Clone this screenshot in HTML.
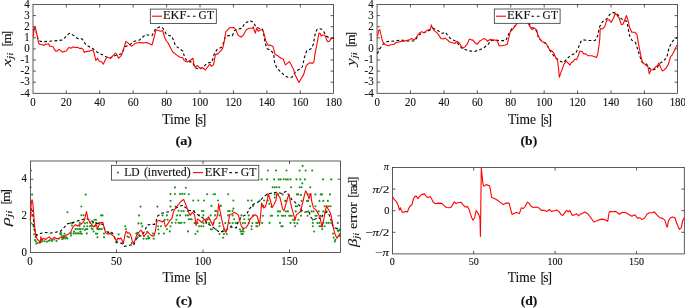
<!DOCTYPE html><html><head><meta charset="utf-8"><style>
html,body{margin:0;padding:0;background:#fff;width:685px;height:308px;overflow:hidden}
svg{display:block;will-change:transform}
</style></head><body>
<svg width="685" height="308" viewBox="0 0 685 308" font-family="Liberation Serif" fill="#111" stroke="#111" stroke-width="0.12">
<rect x="33.0" y="4.5" width="300.50" height="88.80" fill="none" stroke="#262626" stroke-width="0.75"/>
<path d="M66.28 93.3V90.30M66.28 4.5V7.50M99.72 93.3V90.30M99.72 4.5V7.50M133.15 93.3V90.30M133.15 4.5V7.50M166.59 93.3V90.30M166.59 4.5V7.50M200.02 93.3V90.30M200.02 4.5V7.50M233.45 93.3V90.30M233.45 4.5V7.50M266.89 93.3V90.30M266.89 4.5V7.50M300.32 93.3V90.30M300.32 4.5V7.50M33.0 82.20H36.00M333.5 82.20H330.50M33.0 71.10H36.00M333.5 71.10H330.50M33.0 60.00H36.00M333.5 60.00H330.50M33.0 48.90H36.00M333.5 48.90H330.50M33.0 37.80H36.00M333.5 37.80H330.50M33.0 26.70H36.00M333.5 26.70H330.50M33.0 15.60H36.00M333.5 15.60H330.50" stroke="#262626" stroke-width="0.75" fill="none"/>
<text x="32.85" y="106.1" font-size="11.8" text-anchor="middle" textLength="5.45" lengthAdjust="spacingAndGlyphs">0</text>
<text x="66.28" y="106.1" font-size="11.8" text-anchor="middle" textLength="10.90" lengthAdjust="spacingAndGlyphs">20</text>
<text x="99.72" y="106.1" font-size="11.8" text-anchor="middle" textLength="10.90" lengthAdjust="spacingAndGlyphs">40</text>
<text x="133.15" y="106.1" font-size="11.8" text-anchor="middle" textLength="10.90" lengthAdjust="spacingAndGlyphs">60</text>
<text x="166.59" y="106.1" font-size="11.8" text-anchor="middle" textLength="10.90" lengthAdjust="spacingAndGlyphs">80</text>
<text x="200.02" y="106.1" font-size="11.8" text-anchor="middle" textLength="16.35" lengthAdjust="spacingAndGlyphs">100</text>
<text x="233.45" y="106.1" font-size="11.8" text-anchor="middle" textLength="16.35" lengthAdjust="spacingAndGlyphs">120</text>
<text x="266.89" y="106.1" font-size="11.8" text-anchor="middle" textLength="16.35" lengthAdjust="spacingAndGlyphs">140</text>
<text x="300.32" y="106.1" font-size="11.8" text-anchor="middle" textLength="16.35" lengthAdjust="spacingAndGlyphs">160</text>
<text x="333.76" y="106.1" font-size="11.8" text-anchor="middle" textLength="16.35" lengthAdjust="spacingAndGlyphs">180</text>
<text x="29.7" y="96.50" font-size="11.8" text-anchor="end" textLength="9.25" lengthAdjust="spacingAndGlyphs">-4</text>
<text x="29.7" y="85.40" font-size="11.8" text-anchor="end" textLength="9.25" lengthAdjust="spacingAndGlyphs">-3</text>
<text x="29.7" y="74.30" font-size="11.8" text-anchor="end" textLength="9.25" lengthAdjust="spacingAndGlyphs">-2</text>
<text x="29.7" y="63.20" font-size="11.8" text-anchor="end" textLength="9.25" lengthAdjust="spacingAndGlyphs">-1</text>
<text x="29.7" y="52.10" font-size="11.8" text-anchor="end" textLength="5.45" lengthAdjust="spacingAndGlyphs">0</text>
<text x="29.7" y="41.00" font-size="11.8" text-anchor="end" textLength="5.45" lengthAdjust="spacingAndGlyphs">1</text>
<text x="29.7" y="29.90" font-size="11.8" text-anchor="end" textLength="5.45" lengthAdjust="spacingAndGlyphs">2</text>
<text x="29.7" y="18.80" font-size="11.8" text-anchor="end" textLength="5.45" lengthAdjust="spacingAndGlyphs">3</text>
<text x="29.7" y="7.70" font-size="11.8" text-anchor="end" textLength="5.45" lengthAdjust="spacingAndGlyphs">4</text>
<polyline points="33.4,30.7 34.4,28.8 35.8,30.7 37.3,36.6 38.8,40.4 40.7,41.4 44.6,41.6 49.5,41.2 54.3,40.9 59.2,40.4 62.1,40.0 64.6,38.0 67.0,35.1 69.5,33.4 73.9,35.6 77.5,38.5 81.9,38.9 83.4,40.7 85.6,44.4 88.5,46.3 92.9,48.8 98.7,53.2 103.1,55.0 106.0,56.8 109.7,58.3 115.5,55.4 121.4,53.9 125.4,46.5 129.4,45.1 133.8,41.4 139.6,40.0 145.5,34.6 152.0,35.6 155.7,28.7 160.1,26.8 163.0,28.3 166.7,34.9 171.8,36.3 174.0,41.4 175.4,45.8 179.8,48.8 182.7,51.0 185.0,58.3 187.9,61.6 192.3,61.9 195.2,67.8 199.6,69.2 204.0,66.3 206.9,63.4 212.0,61.9 214.2,53.9 217.1,49.5 221.5,47.3 222.9,44.4 225.1,37.0 228.0,35.6 232.4,35.6 234.6,30.5 238.3,29.0 241.9,28.3 244.9,23.2 250.0,20.5 253.6,22.4 255.8,26.8 258.7,28.3 262.4,29.0 263.9,35.6 265.3,43.6 267.2,48.8 270.8,50.2 273.7,53.9 274.5,61.9 276.7,67.8 280.3,71.4 284.0,75.1 287.6,77.3 292.0,77.3 295.7,71.4 299.3,69.2 302.3,67.0 304.4,57.5 306.6,51.0 311.0,48.8 313.4,44.2 314.9,35.0 316.8,29.6 319.7,28.5 322.2,29.6 324.6,33.0 326.5,36.0 329.0,37.9 331.9,38.4 333.5,38.4" fill="none" stroke="#000" stroke-width="1.1" stroke-dasharray="2.8 2.3"/>
<polyline points="33.4,36.6 34.1,28.3 35.1,26.8 36.3,31.7 37.6,37.5 37.8,38.9 38.6,43.3 39.9,44.3 42.1,44.8 44.3,45.4 45.6,44.1 46.9,44.3 48.7,43.7 49.6,46.3 51.3,46.3 53.1,46.8 54.4,49.4 55.7,51.1 57.5,51.0 58.8,49.4 60.5,50.4 62.3,52.0 64.0,51.6 66.2,51.0 67.5,49.4 68.8,47.5 70.6,48.1 72.3,47.6 73.7,46.8 75.0,47.6 77.2,47.2 78.9,48.1 80.2,48.5 81.5,48.1 82.8,48.9 84.2,52.4 85.9,51.6 87.2,51.6 88.5,51.0 89.9,51.1 91.2,50.3 92.9,50.3 94.2,53.3 94.3,53.9 95.8,60.5 97.5,58.3 99.4,61.2 101.6,61.9 103.4,64.1 105.3,59.7 106.8,57.3 110.4,58.3 113.3,55.4 115.5,53.2 117.0,54.6 118.5,58.3 121.4,55.4 123.6,48.8 125.8,41.5 127.9,42.9 131.6,46.3 135.2,43.3 138.9,42.5 142.5,42.9 146.9,42.5 152.0,45.1 154.2,37.0 156.0,29.7 158.3,30.5 160.8,31.2 162.7,30.5 164.5,37.0 166.4,41.0 168.1,42.9 170.3,47.3 172.5,51.7 176.2,54.6 179.8,57.3 182.7,57.8 184.2,60.5 187.1,61.9 190.1,60.5 193.0,58.3 193.7,63.4 194.9,67.0 197.4,65.6 200.3,68.5 202.5,67.8 205.4,70.0 207.6,67.0 209.8,64.1 211.3,66.3 213.5,64.9 215.4,54.6 217.8,53.9 221.5,50.2 222.9,48.0 224.4,40.7 225.8,31.9 229.5,27.8 233.9,27.5 235.8,29.7 238.3,35.6 241.2,37.0 243.4,34.9 246.3,29.7 249.2,28.3 252.2,28.3 253.3,26.8 254.4,31.2 255.4,33.1 256.5,28.3 258.3,31.2 260.6,29.7 262.7,29.7 264.6,35.6 265.7,40.7 267.9,45.1 270.1,45.1 273.0,46.6 275.2,54.6 277.4,55.4 278.9,56.8 281.1,58.3 283.2,59.0 285.4,64.9 287.3,63.4 289.4,61.6 291.3,64.9 293.5,69.2 295.0,74.4 297.1,78.7 299.0,82.4 301.5,78.0 303.7,74.4 306.3,65.6 309.6,62.7 312.5,63.4 313.9,61.9 315.4,51.7 316.8,45.0 317.8,39.4 319.0,33.0 320.2,33.5 321.2,36.0 322.7,35.0 324.1,35.0 325.6,36.4 326.5,39.9 328.0,41.8 329.5,41.3 330.9,38.9 332.4,38.2 333.5,38.0" fill="none" stroke="#f00" stroke-width="1.1" stroke-linejoin="round"/>
<rect x="377.05" y="4.5" width="300.45" height="88.80" fill="none" stroke="#262626" stroke-width="0.75"/>
<path d="M410.51 93.3V90.30M410.51 4.5V7.50M443.93 93.3V90.30M443.93 4.5V7.50M477.34 93.3V90.30M477.34 4.5V7.50M510.76 93.3V90.30M510.76 4.5V7.50M544.17 93.3V90.30M544.17 4.5V7.50M577.58 93.3V90.30M577.58 4.5V7.50M611.00 93.3V90.30M611.00 4.5V7.50M644.41 93.3V90.30M644.41 4.5V7.50M377.05 82.20H380.05M677.5 82.20H674.50M377.05 71.10H380.05M677.5 71.10H674.50M377.05 60.00H380.05M677.5 60.00H674.50M377.05 48.90H380.05M677.5 48.90H674.50M377.05 37.80H380.05M677.5 37.80H674.50M377.05 26.70H380.05M677.5 26.70H674.50M377.05 15.60H380.05M677.5 15.60H674.50" stroke="#262626" stroke-width="0.75" fill="none"/>
<text x="377.10" y="106.1" font-size="11.8" text-anchor="middle" textLength="5.45" lengthAdjust="spacingAndGlyphs">0</text>
<text x="410.51" y="106.1" font-size="11.8" text-anchor="middle" textLength="10.90" lengthAdjust="spacingAndGlyphs">20</text>
<text x="443.93" y="106.1" font-size="11.8" text-anchor="middle" textLength="10.90" lengthAdjust="spacingAndGlyphs">40</text>
<text x="477.34" y="106.1" font-size="11.8" text-anchor="middle" textLength="10.90" lengthAdjust="spacingAndGlyphs">60</text>
<text x="510.76" y="106.1" font-size="11.8" text-anchor="middle" textLength="10.90" lengthAdjust="spacingAndGlyphs">80</text>
<text x="544.17" y="106.1" font-size="11.8" text-anchor="middle" textLength="16.35" lengthAdjust="spacingAndGlyphs">100</text>
<text x="577.58" y="106.1" font-size="11.8" text-anchor="middle" textLength="16.35" lengthAdjust="spacingAndGlyphs">120</text>
<text x="611.00" y="106.1" font-size="11.8" text-anchor="middle" textLength="16.35" lengthAdjust="spacingAndGlyphs">140</text>
<text x="644.41" y="106.1" font-size="11.8" text-anchor="middle" textLength="16.35" lengthAdjust="spacingAndGlyphs">160</text>
<text x="677.83" y="106.1" font-size="11.8" text-anchor="middle" textLength="16.35" lengthAdjust="spacingAndGlyphs">180</text>
<text x="373.8" y="96.50" font-size="11.8" text-anchor="end" textLength="9.25" lengthAdjust="spacingAndGlyphs">-4</text>
<text x="373.8" y="85.40" font-size="11.8" text-anchor="end" textLength="9.25" lengthAdjust="spacingAndGlyphs">-3</text>
<text x="373.8" y="74.30" font-size="11.8" text-anchor="end" textLength="9.25" lengthAdjust="spacingAndGlyphs">-2</text>
<text x="373.8" y="63.20" font-size="11.8" text-anchor="end" textLength="9.25" lengthAdjust="spacingAndGlyphs">-1</text>
<text x="373.8" y="52.10" font-size="11.8" text-anchor="end" textLength="5.45" lengthAdjust="spacingAndGlyphs">0</text>
<text x="373.8" y="41.00" font-size="11.8" text-anchor="end" textLength="5.45" lengthAdjust="spacingAndGlyphs">1</text>
<text x="373.8" y="29.90" font-size="11.8" text-anchor="end" textLength="5.45" lengthAdjust="spacingAndGlyphs">2</text>
<text x="373.8" y="18.80" font-size="11.8" text-anchor="end" textLength="5.45" lengthAdjust="spacingAndGlyphs">3</text>
<text x="373.8" y="7.70" font-size="11.8" text-anchor="end" textLength="5.45" lengthAdjust="spacingAndGlyphs">4</text>
<polyline points="377.4,53.7 379.4,49.4 382.3,45.0 385.2,42.0 389.6,41.3 395.5,40.9 401.3,40.1 407.2,40.9 412.3,41.0 415.2,40.6 418.1,35.5 421.8,33.3 426.2,31.8 430.6,29.6 433.2,28.4 438.6,31.1 442.3,33.4 445.5,32.2 447.7,35.6 451.4,39.3 455.9,41.1 459.5,45.6 462.3,48.4 464.5,49.2 468.6,50.8 474.4,51.5 478.8,50.1 483.2,48.3 487.5,45.0 491.2,40.6 495.6,40.1 500.7,40.6 505.8,40.6 508.7,34.0 511.7,28.9 515.3,26.0 516.8,23.5 520.0,20.0 524.0,19.0 527.5,20.5 529.2,23.8 531.4,27.4 534.3,28.2 536.5,31.1 538.7,38.4 543.1,42.0 546.8,44.2 549.7,50.1 554.5,56.8 558.9,60.5 563.3,62.7 566.9,59.0 570.6,55.4 575.7,53.2 577.9,48.8 580.8,41.5 582.7,39.8 589.2,40.5 595.1,40.5 597.7,35.7 599.5,26.9 602.4,21.8 606.8,18.9 609.7,14.5 612.6,12.6 616.3,13.0 620.0,17.4 623.6,20.4 626.5,21.1 628.0,26.9 629.6,35.8 631.8,40.2 635.4,42.4 637.6,49.0 639.8,56.3 642.0,62.2 646.4,63.9 649.3,68.3 652.3,70.2 656.6,68.7 659.6,63.6 663.9,60.7 666.9,57.0 669.1,47.5 672.7,41.0 676.4,38.0 677.2,37.5" fill="none" stroke="#000" stroke-width="1.1" stroke-dasharray="2.8 2.3"/>
<polyline points="377.6,36.2 378.7,30.4 379.8,29.6 380.8,34.0 382.3,40.6 383.8,43.5 386.0,45.0 388.2,45.7 391.1,44.7 394.0,44.2 396.2,42.5 399.1,42.0 402.0,41.0 404.2,41.3 406.4,40.6 409.4,39.9 411.5,38.4 413.3,39.9 415.2,39.1 417.4,35.5 419.6,32.8 421.8,31.8 424.0,32.8 426.2,31.1 429.1,29.6 430.6,28.9 431.3,24.9 432.3,27.4 434.2,30.4 436.4,32.3 438.6,34.7 440.8,38.4 443.0,39.1 445.2,38.1 447.4,39.9 449.6,42.0 452.5,42.8 454.7,43.5 456.9,41.3 459.1,42.8 461.3,46.4 462.7,48.3 464.9,46.9 467.1,44.2 469.3,39.1 471.5,39.9 472.9,40.1 475.1,42.8 477.3,44.2 479.5,41.3 481.7,39.9 483.9,38.4 486.1,39.6 487.5,41.3 489.7,39.6 492.7,39.9 495.6,40.1 497.5,41.3 499.2,45.7 502.2,45.7 505.1,45.0 507.3,44.2 508.7,38.4 510.2,31.8 512.4,29.6 514.6,26.7 516.8,23.8 519.0,20.5 522.0,19.5 525.5,20.5 528.5,23.8 529.9,26.7 532.1,29.6 534.3,28.2 536.5,29.6 538.0,35.5 540.2,39.1 542.4,42.0 545.3,42.5 547.5,45.7 549.7,50.1 551.9,50.8 554.1,53.7 556.0,58.3 557.4,59.7 558.5,67.8 559.3,77.3 560.8,72.9 562.5,68.5 564.0,64.1 566.2,61.2 568.4,63.4 569.9,65.1 571.3,62.7 573.5,61.2 575.0,59.0 576.4,59.7 577.9,56.8 579.8,51.0 582.3,51.7 583.7,53.9 585.9,53.9 588.1,55.8 591.8,55.8 594.7,56.8 596.5,57.5 597.9,53.2 599.2,44.0 599.8,38.6 600.2,28.4 602.4,29.1 604.6,26.9 606.8,20.4 609.0,19.6 611.2,22.3 613.4,18.2 615.3,13.5 617.0,15.2 619.2,18.2 621.4,24.7 623.2,24.0 625.1,18.9 626.5,15.5 628.0,20.4 629.6,27.5 631.8,32.2 634.7,32.2 636.9,34.4 638.4,43.2 639.8,50.5 641.3,57.8 642.7,62.9 645.0,64.4 646.4,65.8 647.9,66.5 649.3,73.9 650.8,70.2 653.0,69.5 655.2,67.3 657.4,65.8 658.8,62.9 660.3,66.5 662.2,70.9 663.9,70.2 666.1,68.0 668.3,64.4 670.5,57.0 672.7,54.1 674.5,50.5 676.4,46.1 677.2,45.0" fill="none" stroke="#f00" stroke-width="1.1" stroke-linejoin="round"/>
<rect x="30.45" y="161.0" width="310.05" height="91.40" fill="none" stroke="#262626" stroke-width="0.75"/>
<path d="M116.50 252.4V249.40M116.50 161.0V164.00M203.00 252.4V249.40M203.00 161.0V164.00M289.50 252.4V249.40M289.50 161.0V164.00M30.45 215.84H33.45M340.5 215.84H337.50M30.45 179.28H33.45M340.5 179.28H337.50" stroke="#262626" stroke-width="0.75" fill="none"/>
<text x="30.00" y="265.2" font-size="11.8" text-anchor="middle" textLength="5.45" lengthAdjust="spacingAndGlyphs">0</text>
<text x="116.50" y="265.2" font-size="11.8" text-anchor="middle" textLength="10.90" lengthAdjust="spacingAndGlyphs">50</text>
<text x="203.00" y="265.2" font-size="11.8" text-anchor="middle" textLength="16.35" lengthAdjust="spacingAndGlyphs">100</text>
<text x="289.50" y="265.2" font-size="11.8" text-anchor="middle" textLength="16.35" lengthAdjust="spacingAndGlyphs">150</text>
<text x="27.0" y="255.60" font-size="11.8" text-anchor="end" textLength="5.45" lengthAdjust="spacingAndGlyphs">0</text>
<text x="27.0" y="219.04" font-size="11.8" text-anchor="end" textLength="5.45" lengthAdjust="spacingAndGlyphs">2</text>
<text x="27.0" y="182.48" font-size="11.8" text-anchor="end" textLength="5.45" lengthAdjust="spacingAndGlyphs">4</text>
<g fill="#1a931a" stroke="none"><circle cx="30.9" cy="170.7" r="1.05"/><circle cx="30.6" cy="187.3" r="1.05"/><circle cx="32.1" cy="194.6" r="1.05"/><circle cx="85.7" cy="194.6" r="1.05"/><circle cx="32.8" cy="224.6" r="1.05"/><circle cx="34.1" cy="234.3" r="1.05"/><circle cx="35.9" cy="241.3" r="1.05"/><circle cx="36.3" cy="243.5" r="1.05"/><circle cx="37.6" cy="243.0" r="1.05"/><circle cx="39.4" cy="242.6" r="1.05"/><circle cx="42.5" cy="240.9" r="1.05"/><circle cx="44.7" cy="241.3" r="1.05"/><circle cx="46.9" cy="241.7" r="1.05"/><circle cx="49.9" cy="240.4" r="1.05"/><circle cx="52.1" cy="240.9" r="1.05"/><circle cx="54.3" cy="239.5" r="1.05"/><circle cx="56.5" cy="240.9" r="1.05"/><circle cx="58.7" cy="238.7" r="1.05"/><circle cx="60.9" cy="232.5" r="1.05"/><circle cx="61.3" cy="234.3" r="1.05"/><circle cx="62.2" cy="239.1" r="1.05"/><circle cx="64.8" cy="236.9" r="1.05"/><circle cx="66.6" cy="237.4" r="1.05"/><circle cx="71.0" cy="235.6" r="1.05"/><circle cx="71.0" cy="233.4" r="1.05"/><circle cx="71.9" cy="225.5" r="1.05"/><circle cx="73.6" cy="233.4" r="1.05"/><circle cx="75.4" cy="233.4" r="1.05"/><circle cx="77.1" cy="229.0" r="1.05"/><circle cx="77.1" cy="233.4" r="1.05"/><circle cx="78.9" cy="233.4" r="1.05"/><circle cx="80.6" cy="229.0" r="1.05"/><circle cx="80.6" cy="233.4" r="1.05"/><circle cx="82.8" cy="229.0" r="1.05"/><circle cx="84.1" cy="226.4" r="1.05"/><circle cx="85.9" cy="229.0" r="1.05"/><circle cx="86.8" cy="233.4" r="1.05"/><circle cx="75.4" cy="229.0" r="1.05"/><circle cx="72.7" cy="222.9" r="1.05"/><circle cx="79.8" cy="222.9" r="1.05"/><circle cx="85.0" cy="223.3" r="1.05"/><circle cx="31.0" cy="223.3" r="1.05"/><circle cx="81.4" cy="206.5" r="1.05"/><circle cx="67.5" cy="212.3" r="1.05"/><circle cx="81.4" cy="215.2" r="1.05"/><circle cx="83.6" cy="215.2" r="1.05"/><circle cx="87.2" cy="222.7" r="1.05"/><circle cx="90.1" cy="222.7" r="1.05"/><circle cx="93.0" cy="222.7" r="1.05"/><circle cx="96.0" cy="222.7" r="1.05"/><circle cx="98.9" cy="222.7" r="1.05"/><circle cx="87.2" cy="226.3" r="1.05"/><circle cx="91.6" cy="228.5" r="1.05"/><circle cx="94.5" cy="219.7" r="1.05"/><circle cx="96.0" cy="219.7" r="1.05"/><circle cx="101.1" cy="215.4" r="1.05"/><circle cx="102.5" cy="215.4" r="1.05"/><circle cx="96.0" cy="233.6" r="1.05"/><circle cx="104.0" cy="233.6" r="1.05"/><circle cx="97.4" cy="237.3" r="1.05"/><circle cx="104.0" cy="237.3" r="1.05"/><circle cx="85.0" cy="230.0" r="1.05"/><circle cx="108.4" cy="232.2" r="1.05"/><circle cx="111.3" cy="232.9" r="1.05"/><circle cx="116.4" cy="242.4" r="1.05"/><circle cx="118.6" cy="234.4" r="1.05"/><circle cx="123.0" cy="242.4" r="1.05"/><circle cx="125.2" cy="226.3" r="1.05"/><circle cx="127.4" cy="236.5" r="1.05"/><circle cx="128.9" cy="237.3" r="1.05"/><circle cx="131.8" cy="243.1" r="1.05"/><circle cx="136.2" cy="233.6" r="1.05"/><circle cx="137.6" cy="237.3" r="1.05"/><circle cx="140.6" cy="206.6" r="1.05"/><circle cx="139.1" cy="215.4" r="1.05"/><circle cx="138.4" cy="223.4" r="1.05"/><circle cx="141.3" cy="223.4" r="1.05"/><circle cx="143.5" cy="238.7" r="1.05"/><circle cx="146.4" cy="238.7" r="1.05"/><circle cx="149.3" cy="238.0" r="1.05"/><circle cx="153.7" cy="238.7" r="1.05"/><circle cx="153.0" cy="233.6" r="1.05"/><circle cx="157.4" cy="206.6" r="1.05"/><circle cx="158.1" cy="226.3" r="1.05"/><circle cx="161.0" cy="226.3" r="1.05"/><circle cx="158.8" cy="233.6" r="1.05"/><circle cx="162.5" cy="215.4" r="1.05"/><circle cx="166.9" cy="215.4" r="1.05"/><circle cx="164.7" cy="219.7" r="1.05"/><circle cx="167.6" cy="219.7" r="1.05"/><circle cx="163.9" cy="233.6" r="1.05"/><circle cx="166.9" cy="229.2" r="1.05"/><circle cx="169.8" cy="231.4" r="1.05"/><circle cx="170.5" cy="226.3" r="1.05"/><circle cx="170.5" cy="206.6" r="1.05"/><circle cx="170.5" cy="200.7" r="1.05"/><circle cx="172.0" cy="222.7" r="1.05"/><circle cx="175.6" cy="222.7" r="1.05"/><circle cx="178.6" cy="222.7" r="1.05"/><circle cx="181.5" cy="222.7" r="1.05"/><circle cx="184.4" cy="222.7" r="1.05"/><circle cx="176.4" cy="219.7" r="1.05"/><circle cx="177.1" cy="215.4" r="1.05"/><circle cx="180.0" cy="215.4" r="1.05"/><circle cx="181.5" cy="211.0" r="1.05"/><circle cx="183.7" cy="211.0" r="1.05"/><circle cx="175.6" cy="206.6" r="1.05"/><circle cx="174.9" cy="187.4" r="1.05"/><circle cx="170.5" cy="194.0" r="1.05"/><circle cx="174.9" cy="194.0" r="1.05"/><circle cx="180.0" cy="194.0" r="1.05"/><circle cx="182.2" cy="194.0" r="1.05"/><circle cx="184.4" cy="194.0" r="1.05"/><circle cx="178.6" cy="210.8" r="1.05"/><circle cx="185.8" cy="187.7" r="1.05"/><circle cx="188.8" cy="194.2" r="1.05"/><circle cx="207.0" cy="194.2" r="1.05"/><circle cx="213.6" cy="194.2" r="1.05"/><circle cx="215.1" cy="194.2" r="1.05"/><circle cx="228.2" cy="194.2" r="1.05"/><circle cx="193.2" cy="200.5" r="1.05"/><circle cx="198.3" cy="200.5" r="1.05"/><circle cx="204.1" cy="200.5" r="1.05"/><circle cx="218.0" cy="200.5" r="1.05"/><circle cx="233.4" cy="200.5" r="1.05"/><circle cx="248.0" cy="200.5" r="1.05"/><circle cx="251.6" cy="200.5" r="1.05"/><circle cx="211.4" cy="205.9" r="1.05"/><circle cx="220.9" cy="205.9" r="1.05"/><circle cx="233.4" cy="208.6" r="1.05"/><circle cx="253.1" cy="205.9" r="1.05"/><circle cx="259.7" cy="200.5" r="1.05"/><circle cx="264.1" cy="200.5" r="1.05"/><circle cx="267.7" cy="200.5" r="1.05"/><circle cx="263.3" cy="205.9" r="1.05"/><circle cx="269.2" cy="203.7" r="1.05"/><circle cx="271.4" cy="206.7" r="1.05"/><circle cx="302.6" cy="165.9" r="1.05"/><circle cx="283.6" cy="179.3" r="1.05"/><circle cx="267.9" cy="170.5" r="1.05"/><circle cx="276.0" cy="170.5" r="1.05"/><circle cx="286.5" cy="170.5" r="1.05"/><circle cx="299.7" cy="170.5" r="1.05"/><circle cx="305.6" cy="170.5" r="1.05"/><circle cx="312.2" cy="170.5" r="1.05"/><circle cx="261.6" cy="179.4" r="1.05"/><circle cx="267.1" cy="179.4" r="1.05"/><circle cx="274.1" cy="179.4" r="1.05"/><circle cx="278.7" cy="179.4" r="1.05"/><circle cx="280.6" cy="179.4" r="1.05"/><circle cx="285.9" cy="179.4" r="1.05"/><circle cx="287.9" cy="179.4" r="1.05"/><circle cx="290.5" cy="179.4" r="1.05"/><circle cx="296.4" cy="179.4" r="1.05"/><circle cx="300.3" cy="179.4" r="1.05"/><circle cx="304.9" cy="179.4" r="1.05"/><circle cx="323.1" cy="179.4" r="1.05"/><circle cx="331.2" cy="179.4" r="1.05"/><circle cx="302.3" cy="183.4" r="1.05"/><circle cx="272.7" cy="187.3" r="1.05"/><circle cx="274.7" cy="187.3" r="1.05"/><circle cx="276.7" cy="187.3" r="1.05"/><circle cx="279.3" cy="187.3" r="1.05"/><circle cx="291.1" cy="187.3" r="1.05"/><circle cx="299.7" cy="187.3" r="1.05"/><circle cx="301.6" cy="187.3" r="1.05"/><circle cx="310.2" cy="187.3" r="1.05"/><circle cx="267.5" cy="194.4" r="1.05"/><circle cx="274.7" cy="194.4" r="1.05"/><circle cx="278.0" cy="194.4" r="1.05"/><circle cx="282.6" cy="194.4" r="1.05"/><circle cx="297.0" cy="194.4" r="1.05"/><circle cx="298.4" cy="194.4" r="1.05"/><circle cx="307.6" cy="194.4" r="1.05"/><circle cx="310.2" cy="194.4" r="1.05"/><circle cx="315.4" cy="194.4" r="1.05"/><circle cx="320.7" cy="194.4" r="1.05"/><circle cx="322.0" cy="194.4" r="1.05"/><circle cx="329.9" cy="194.4" r="1.05"/><circle cx="274.7" cy="197.5" r="1.05"/><circle cx="301.0" cy="195.0" r="1.05"/><circle cx="285.2" cy="200.9" r="1.05"/><circle cx="286.5" cy="200.9" r="1.05"/><circle cx="301.6" cy="200.9" r="1.05"/><circle cx="306.9" cy="200.9" r="1.05"/><circle cx="308.2" cy="200.9" r="1.05"/><circle cx="319.4" cy="200.9" r="1.05"/><circle cx="323.3" cy="200.9" r="1.05"/><circle cx="327.9" cy="200.9" r="1.05"/><circle cx="295.7" cy="206.2" r="1.05"/><circle cx="297.0" cy="206.2" r="1.05"/><circle cx="310.2" cy="206.2" r="1.05"/><circle cx="315.4" cy="206.2" r="1.05"/><circle cx="324.6" cy="206.2" r="1.05"/><circle cx="328.6" cy="206.2" r="1.05"/><circle cx="330.6" cy="206.2" r="1.05"/><circle cx="278.0" cy="211.4" r="1.05"/><circle cx="280.0" cy="211.4" r="1.05"/><circle cx="285.9" cy="211.4" r="1.05"/><circle cx="287.9" cy="211.4" r="1.05"/><circle cx="295.7" cy="211.4" r="1.05"/><circle cx="301.0" cy="211.4" r="1.05"/><circle cx="308.2" cy="211.4" r="1.05"/><circle cx="311.5" cy="211.4" r="1.05"/><circle cx="313.5" cy="211.4" r="1.05"/><circle cx="318.7" cy="211.4" r="1.05"/><circle cx="323.3" cy="211.4" r="1.05"/><circle cx="326.6" cy="211.4" r="1.05"/><circle cx="262.9" cy="215.8" r="1.05"/><circle cx="270.8" cy="215.8" r="1.05"/><circle cx="272.1" cy="215.8" r="1.05"/><circle cx="278.0" cy="215.8" r="1.05"/><circle cx="281.9" cy="215.8" r="1.05"/><circle cx="283.3" cy="215.8" r="1.05"/><circle cx="285.2" cy="215.8" r="1.05"/><circle cx="289.2" cy="215.8" r="1.05"/><circle cx="290.5" cy="215.8" r="1.05"/><circle cx="291.8" cy="215.8" r="1.05"/><circle cx="301.0" cy="215.8" r="1.05"/><circle cx="307.6" cy="215.8" r="1.05"/><circle cx="315.4" cy="215.8" r="1.05"/><circle cx="316.8" cy="215.8" r="1.05"/><circle cx="320.7" cy="215.8" r="1.05"/><circle cx="293.1" cy="219.7" r="1.05"/><circle cx="294.4" cy="219.7" r="1.05"/><circle cx="298.4" cy="219.7" r="1.05"/><circle cx="312.8" cy="219.7" r="1.05"/><circle cx="256.3" cy="222.9" r="1.05"/><circle cx="257.6" cy="222.9" r="1.05"/><circle cx="262.2" cy="222.9" r="1.05"/><circle cx="269.5" cy="222.9" r="1.05"/><circle cx="280.0" cy="222.9" r="1.05"/><circle cx="290.5" cy="222.9" r="1.05"/><circle cx="294.4" cy="222.9" r="1.05"/><circle cx="312.8" cy="222.9" r="1.05"/><circle cx="317.4" cy="222.9" r="1.05"/><circle cx="319.4" cy="222.9" r="1.05"/><circle cx="323.3" cy="222.9" r="1.05"/><circle cx="326.6" cy="222.9" r="1.05"/><circle cx="328.6" cy="222.9" r="1.05"/><circle cx="331.2" cy="222.9" r="1.05"/><circle cx="337.8" cy="222.9" r="1.05"/><circle cx="256.3" cy="226.3" r="1.05"/><circle cx="257.6" cy="226.3" r="1.05"/><circle cx="281.3" cy="226.3" r="1.05"/><circle cx="282.6" cy="226.3" r="1.05"/><circle cx="295.1" cy="226.3" r="1.05"/><circle cx="312.8" cy="226.3" r="1.05"/><circle cx="319.4" cy="226.3" r="1.05"/><circle cx="322.0" cy="226.3" r="1.05"/><circle cx="324.6" cy="226.3" r="1.05"/><circle cx="314.1" cy="231.5" r="1.05"/><circle cx="337.8" cy="230.2" r="1.05"/><circle cx="339.1" cy="230.2" r="1.05"/><circle cx="297.3" cy="223.4" r="1.05"/><circle cx="320.6" cy="226.3" r="1.05"/><circle cx="322.3" cy="229.1" r="1.05"/><circle cx="333.1" cy="233.6" r="1.05"/><circle cx="338.2" cy="231.4" r="1.05"/><circle cx="333.6" cy="237.6" r="1.05"/><circle cx="335.3" cy="239.9" r="1.05"/><circle cx="334.8" cy="241.6" r="1.05"/><circle cx="339.3" cy="235.9" r="1.05"/><circle cx="337.0" cy="228.5" r="1.05"/><circle cx="188.0" cy="211.0" r="1.05"/><circle cx="193.9" cy="211.0" r="1.05"/><circle cx="201.9" cy="211.0" r="1.05"/><circle cx="203.4" cy="211.0" r="1.05"/><circle cx="215.1" cy="211.0" r="1.05"/><circle cx="216.5" cy="211.0" r="1.05"/><circle cx="228.2" cy="211.0" r="1.05"/><circle cx="229.7" cy="211.0" r="1.05"/><circle cx="232.6" cy="211.0" r="1.05"/><circle cx="185.8" cy="215.4" r="1.05"/><circle cx="188.0" cy="215.4" r="1.05"/><circle cx="199.0" cy="215.4" r="1.05"/><circle cx="203.4" cy="215.4" r="1.05"/><circle cx="210.7" cy="215.4" r="1.05"/><circle cx="215.1" cy="215.4" r="1.05"/><circle cx="219.5" cy="215.4" r="1.05"/><circle cx="228.2" cy="215.4" r="1.05"/><circle cx="232.6" cy="215.4" r="1.05"/><circle cx="241.4" cy="215.4" r="1.05"/><circle cx="248.7" cy="215.4" r="1.05"/><circle cx="253.1" cy="215.4" r="1.05"/><circle cx="188.8" cy="219.3" r="1.05"/><circle cx="190.2" cy="219.3" r="1.05"/><circle cx="191.7" cy="219.3" r="1.05"/><circle cx="206.3" cy="219.3" r="1.05"/><circle cx="209.2" cy="219.3" r="1.05"/><circle cx="234.1" cy="219.3" r="1.05"/><circle cx="239.9" cy="219.3" r="1.05"/><circle cx="244.3" cy="219.3" r="1.05"/><circle cx="248.7" cy="219.3" r="1.05"/><circle cx="180.0" cy="223.1" r="1.05"/><circle cx="194.6" cy="223.1" r="1.05"/><circle cx="197.5" cy="223.1" r="1.05"/><circle cx="203.4" cy="223.1" r="1.05"/><circle cx="206.3" cy="223.1" r="1.05"/><circle cx="209.2" cy="223.1" r="1.05"/><circle cx="213.6" cy="223.1" r="1.05"/><circle cx="219.5" cy="223.1" r="1.05"/><circle cx="225.3" cy="223.1" r="1.05"/><circle cx="229.7" cy="223.1" r="1.05"/><circle cx="232.6" cy="223.1" r="1.05"/><circle cx="235.6" cy="223.1" r="1.05"/><circle cx="237.0" cy="223.1" r="1.05"/><circle cx="242.9" cy="223.1" r="1.05"/><circle cx="245.1" cy="223.1" r="1.05"/><circle cx="248.7" cy="223.1" r="1.05"/><circle cx="252.4" cy="223.1" r="1.05"/><circle cx="199.0" cy="226.3" r="1.05"/><circle cx="201.2" cy="226.3" r="1.05"/><circle cx="203.4" cy="226.3" r="1.05"/><circle cx="219.5" cy="226.3" r="1.05"/><circle cx="231.2" cy="226.3" r="1.05"/><circle cx="251.6" cy="226.3" r="1.05"/><circle cx="210.7" cy="229.2" r="1.05"/><circle cx="212.2" cy="229.2" r="1.05"/><circle cx="215.8" cy="229.2" r="1.05"/><circle cx="223.9" cy="229.2" r="1.05"/><circle cx="239.9" cy="229.2" r="1.05"/><circle cx="242.9" cy="229.2" r="1.05"/><circle cx="251.6" cy="229.2" r="1.05"/><circle cx="188.0" cy="231.4" r="1.05"/><circle cx="197.5" cy="231.4" r="1.05"/><circle cx="222.4" cy="231.4" r="1.05"/><circle cx="225.3" cy="231.4" r="1.05"/><circle cx="240.7" cy="231.4" r="1.05"/><circle cx="242.1" cy="231.4" r="1.05"/><circle cx="243.6" cy="231.4" r="1.05"/><circle cx="195.4" cy="234.0" r="1.05"/><circle cx="219.5" cy="234.0" r="1.05"/><circle cx="223.9" cy="234.0" r="1.05"/><circle cx="226.8" cy="234.0" r="1.05"/><circle cx="241.4" cy="234.0" r="1.05"/><circle cx="242.9" cy="234.0" r="1.05"/><circle cx="223.1" cy="237.7" r="1.05"/><circle cx="70.9" cy="223.1" r="1.05"/><circle cx="79.5" cy="226.1" r="1.05"/><circle cx="90.0" cy="226.1" r="1.05"/><circle cx="91.8" cy="226.1" r="1.05"/><circle cx="95.0" cy="226.1" r="1.05"/><circle cx="79.1" cy="229.1" r="1.05"/><circle cx="87.3" cy="229.1" r="1.05"/><circle cx="92.7" cy="229.1" r="1.05"/><circle cx="97.3" cy="229.1" r="1.05"/><circle cx="98.7" cy="229.1" r="1.05"/><circle cx="100.0" cy="229.1" r="1.05"/><circle cx="101.8" cy="229.1" r="1.05"/><circle cx="74.1" cy="231.5" r="1.05"/><circle cx="80.5" cy="231.5" r="1.05"/><circle cx="93.6" cy="231.5" r="1.05"/><circle cx="60.0" cy="233.8" r="1.05"/><circle cx="64.5" cy="233.8" r="1.05"/><circle cx="81.8" cy="233.8" r="1.05"/><circle cx="97.3" cy="233.8" r="1.05"/><circle cx="61.8" cy="236.1" r="1.05"/><circle cx="63.6" cy="236.1" r="1.05"/><circle cx="63.6" cy="238.5" r="1.05"/><circle cx="65.5" cy="238.5" r="1.05"/><circle cx="67.3" cy="238.5" r="1.05"/><circle cx="125.9" cy="229.1" r="1.05"/><circle cx="148.2" cy="238.6" r="1.05"/><circle cx="147.3" cy="231.8" r="1.05"/><circle cx="148.2" cy="236.4" r="1.05"/><circle cx="158.4" cy="229.5" r="1.05"/><circle cx="142.3" cy="226.4" r="1.05"/><circle cx="137.3" cy="232.7" r="1.05"/><circle cx="139.1" cy="235.0" r="1.05"/><circle cx="33.8" cy="226.6" r="1.05"/><circle cx="34.4" cy="229.5" r="1.05"/><circle cx="35.6" cy="237.1" r="1.05"/><circle cx="35.0" cy="240.1" r="1.05"/><circle cx="41.5" cy="241.8" r="1.05"/><circle cx="48.5" cy="240.7" r="1.05"/></g>
<polyline points="30.4,220.0 30.9,213.0 31.6,209.5 32.3,211.0 33.0,215.5 33.6,221.0 34.4,229.5 36.8,235.4 39.7,233.6 44.4,232.5 50.8,233.0 56.1,232.1 60.5,231.2 63.5,228.1 67.5,223.8 71.9,222.9 79.2,220.4 85.0,218.8 87.9,219.0 92.3,221.2 96.7,223.4 100.0,223.9 102.9,224.4 105.4,230.7 108.8,232.7 112.2,232.7 114.1,236.1 116.1,241.9 119.0,242.4 121.9,243.4 124.3,246.3 127.8,245.8 131.2,244.8 133.6,245.3 136.0,239.5 139.0,236.1 141.9,235.6 144.3,231.7 145.8,228.3 147.7,224.9 151.6,224.4 154.5,224.4 156.5,220.0 157.5,216.1 161.8,213.2 169.1,211.7 174.2,208.8 178.6,206.6 183.0,205.1 184.4,206.6 188.8,210.2 193.2,211.0 197.5,214.6 203.4,218.3 207.0,223.4 212.2,226.3 216.5,230.0 219.5,232.2 225.3,230.7 230.4,227.0 236.3,227.8 239.2,219.0 242.1,216.8 246.5,214.6 249.4,208.8 253.1,204.4 255.0,203.5 258.9,201.6 262.9,197.6 266.8,194.4 272.1,192.9 277.3,192.2 281.9,193.5 285.9,191.5 289.2,195.5 291.8,199.6 295.7,202.9 299.7,205.5 301.6,210.1 304.9,212.1 308.9,211.4 310.8,217.3 313.5,220.0 318.1,217.3 320.7,219.3 323.3,214.1 326.6,212.1 329.2,214.7 331.2,220.6 333.1,227.0 336.5,228.5 340.2,229.2" fill="none" stroke="#000" stroke-width="1.1" stroke-dasharray="2.8 2.3"/>
<polyline points="30.4,221.0 30.8,208.7 31.5,201.5 32.1,199.8 32.7,202.0 33.3,208.7 33.8,215.0 34.2,221.3 34.9,229.0 35.6,235.4 37.4,239.5 39.1,240.7 40.3,243.0 40.9,236.6 41.8,240.1 43.2,238.3 45.5,239.5 49.1,236.9 51.7,239.5 54.3,237.4 56.9,238.7 59.1,238.2 61.3,236.9 63.1,237.8 65.7,235.2 68.4,234.3 71.0,231.6 72.7,227.3 75.4,224.6 77.1,226.0 79.8,224.6 81.5,223.8 83.3,222.0 84.3,220.4 85.3,216.7 86.5,211.6 87.9,219.0 90.8,223.4 93.8,227.0 96.0,224.1 97.4,228.5 99.6,224.1 100.0,222.9 102.9,222.4 104.4,228.8 105.8,233.1 107.8,234.1 109.7,233.6 111.7,234.6 114.1,236.6 116.6,240.9 118.0,238.0 119.5,239.0 120.9,238.0 122.4,240.9 123.4,243.4 124.8,235.6 126.1,231.2 127.8,233.1 129.2,232.7 130.7,235.1 132.1,240.4 133.6,243.4 135.1,240.0 136.5,235.6 138.0,233.6 139.4,231.7 140.9,230.2 142.4,232.2 143.8,236.6 145.3,234.6 147.7,232.2 149.7,234.1 151.6,235.6 154.0,236.1 155.5,230.7 156.5,222.9 157.4,221.0 159.6,220.5 162.5,221.9 163.9,220.5 165.4,227.0 167.6,224.1 169.8,220.5 172.0,218.3 173.5,211.7 175.6,208.0 178.6,204.4 180.8,201.5 183.7,199.5 185.8,204.4 188.0,211.0 190.2,215.4 192.4,212.4 194.6,214.6 196.1,225.6 197.5,219.0 199.7,220.5 201.9,222.7 204.1,219.0 206.3,221.9 208.5,216.8 210.7,221.2 212.9,225.6 214.4,219.7 216.5,218.3 217.7,213.9 218.7,203.7 220.2,211.7 222.4,222.7 224.6,230.0 226.1,232.2 227.5,227.0 229.7,214.6 231.9,213.9 234.1,212.4 236.3,213.2 238.5,215.4 239.9,221.2 241.4,226.3 243.6,228.5 245.8,227.8 248.0,224.9 250.2,219.0 253.1,216.1 255.0,214.7 257.0,216.0 258.3,220.0 259.6,225.2 260.9,212.1 261.6,203.0 263.5,208.0 265.5,206.8 267.5,198.9 268.3,193.8 270.1,199.5 272.1,207.5 274.1,204.2 276.0,200.3 276.9,193.0 278.0,195.0 280.0,197.6 281.3,202.9 282.6,208.8 283.9,210.8 285.2,206.8 286.5,201.6 287.9,197.0 289.2,194.8 290.5,202.9 291.8,208.1 293.1,212.7 295.1,220.0 296.4,214.7 298.4,213.4 300.3,211.4 301.6,206.8 303.0,201.6 304.3,195.7 305.6,190.9 307.6,194.2 308.9,198.9 310.8,193.5 311.5,200.3 313.5,208.1 316.1,210.1 318.1,213.4 320.0,217.3 322.0,227.0 324.0,218.7 325.3,210.8 326.6,205.5 327.9,208.8 329.2,210.8 330.6,213.4 332.5,222.6 333.6,229.1 335.3,234.8 337.0,238.2 338.8,235.3 339.9,233.6 340.2,233.5" fill="none" stroke="#f00" stroke-width="1.1" stroke-linejoin="round"/>
<rect x="392.5" y="167.5" width="291.80" height="86.40" fill="none" stroke="#262626" stroke-width="0.75"/>
<path d="M473.65 253.9V250.90M473.65 167.5V170.50M555.10 253.9V250.90M555.10 167.5V170.50M636.55 253.9V250.90M636.55 167.5V170.50M392.5 189.10H395.50M684.3 189.10H681.30M392.5 210.70H395.50M684.3 210.70H681.30M392.5 232.30H395.50M684.3 232.30H681.30" stroke="#262626" stroke-width="0.75" fill="none"/>
<text x="392.20" y="265.4" font-size="10.0" text-anchor="middle" >0</text>
<text x="473.65" y="265.4" font-size="10.0" text-anchor="middle" >50</text>
<text x="555.10" y="265.4" font-size="10.0" text-anchor="middle" >100</text>
<text x="636.55" y="265.4" font-size="10.0" text-anchor="middle" >150</text>
<text x="389.0" y="169.90" font-size="10.5" text-anchor="end" textLength="5.2" lengthAdjust="spacingAndGlyphs"><tspan font-style="italic">π</tspan></text>
<text x="389.4" y="192.70" font-size="10.8" text-anchor="end" textLength="17.0" lengthAdjust="spacingAndGlyphs"><tspan font-style="italic">π</tspan>/2</text>
<text x="389.4" y="213.60" font-size="10.8" text-anchor="end" textLength="5.2" lengthAdjust="spacingAndGlyphs">0</text>
<text x="389.4" y="235.90" font-size="10.8" text-anchor="end" textLength="24.2" lengthAdjust="spacingAndGlyphs">−<tspan font-style="italic">π</tspan>/2</text>
<text x="389.0" y="256.30" font-size="10.5" text-anchor="end" textLength="13.6" lengthAdjust="spacingAndGlyphs">−<tspan font-style="italic">π</tspan></text>
<polyline points="392.6,196.8 394.4,199.7 396.6,201.9 398.0,204.9 399.5,210.0 400.5,207.8 401.7,211.4 403.2,212.5 405.4,211.4 407.5,211.9 408.7,208.5 410.5,205.6 411.9,204.9 413.4,199.0 414.9,196.4 416.3,196.1 417.8,198.7 419.2,196.8 421.4,194.6 424.4,193.9 426.5,196.8 428.0,197.5 430.2,196.4 431.7,199.0 433.1,201.9 435.3,203.7 438.2,203.1 441.9,203.4 444.1,205.6 446.3,207.5 449.2,207.8 451.4,207.0 452.9,204.1 454.3,201.9 455.8,203.4 458.0,202.7 460.9,202.2 463.1,204.9 465.3,207.0 467.5,206.6 469.3,210.0 470.2,212.9 471.7,217.8 473.1,220.2 474.6,217.8 476.1,210.5 477.5,212.4 479.0,214.9 480.0,218.8 480.4,236.5 481.3,167.8 482.1,176.2 483.0,184.0 483.9,186.2 485.2,185.4 486.5,184.5 488.2,185.4 489.6,185.8 490.4,190.0 491.6,197.5 493.8,198.3 496.7,199.7 499.6,201.9 503.3,204.6 506.2,203.1 509.1,203.1 510.6,209.2 512.0,214.4 514.2,213.3 516.4,212.5 519.4,213.6 521.3,207.8 523.3,208.5 525.2,206.3 527.4,202.2 528.9,203.1 531.0,206.3 533.2,207.5 536.2,207.0 539.1,208.1 541.3,210.4 544.2,210.4 547.1,211.4 549.3,209.5 551.5,211.4 554.4,210.7 556.6,210.0 558.8,211.4 561.0,214.4 562.8,215.4 564.7,212.9 566.6,210.4 568.3,211.9 569.8,210.4 572.0,215.1 574.2,215.1 576.4,213.6 578.6,215.8 580.8,213.9 583.0,212.9 585.0,212.0 587.9,214.0 590.8,217.7 593.8,222.0 596.0,221.3 598.9,219.9 601.8,219.1 604.7,219.6 607.7,221.3 609.1,212.5 610.1,211.4 612.8,211.8 615.7,211.4 619.4,214.3 622.3,212.3 625.2,212.5 628.1,214.0 631.8,216.2 634.7,214.7 637.6,218.1 639.8,217.7 642.0,219.6 644.9,217.7 647.1,214.0 649.3,212.8 652.3,212.8 654.4,211.8 656.6,214.7 659.6,217.7 662.5,218.4 664.7,219.9 666.1,224.2 667.2,227.2 668.6,220.6 670.5,217.7 672.7,216.9 674.9,217.7 677.1,224.2 679.3,229.4 681.2,227.9 682.7,220.6 684.4,217.7" fill="none" stroke="#f00" stroke-width="1.1" stroke-linejoin="round"/>
<rect x="150.3" y="9.1" width="66" height="14.3" fill="#fff" stroke="#262626" stroke-width="0.75"/>
<line x1="152" y1="16.2" x2="162" y2="16.2" stroke="#f00" stroke-width="1.1"/>
<text x="163.0" y="18.8" font-size="11.8" text-anchor="start" textLength="23.5" lengthAdjust="spacingAndGlyphs">EKF</text>
<path d="M187.3 16.2h2.6M193.00 16.2h2.6" stroke="#000" stroke-width="1.1"/>
<text x="198.6" y="18.8" font-size="11.8" text-anchor="start" textLength="15.3" lengthAdjust="spacingAndGlyphs">GT</text>
<rect x="494.3" y="9.0" width="65.8" height="14.3" fill="#fff" stroke="#262626" stroke-width="0.75"/>
<line x1="496" y1="16.2" x2="506" y2="16.2" stroke="#f00" stroke-width="1.1"/>
<text x="507.0" y="18.8" font-size="11.8" text-anchor="start" textLength="23.5" lengthAdjust="spacingAndGlyphs">EKF</text>
<path d="M531.4 16.2h2.6M536.90 16.2h2.6" stroke="#000" stroke-width="1.1"/>
<text x="542.6" y="18.8" font-size="11.8" text-anchor="start" textLength="15.3" lengthAdjust="spacingAndGlyphs">GT</text>
<rect x="111.4" y="165.3" width="147.4" height="14.8" fill="#fff" stroke="#262626" stroke-width="0.75"/>
<circle cx="117.9" cy="172.6" r="1.05" fill="#1a931a" stroke="none"/>
<text x="124.3" y="175.6" font-size="11.8" text-anchor="start" textLength="15.4" lengthAdjust="spacingAndGlyphs">LD</text>
<text x="143.9" y="175.6" font-size="11.8" text-anchor="start" textLength="46.9" lengthAdjust="spacingAndGlyphs">(inverted)</text>
<line x1="193" y1="172.6" x2="203" y2="172.6" stroke="#f00" stroke-width="1.1"/>
<text x="204.7" y="175.6" font-size="11.8" text-anchor="start" textLength="23.2" lengthAdjust="spacingAndGlyphs">EKF</text>
<path d="M229.3 172.6h2.6M235.10 172.6h2.6" stroke="#000" stroke-width="1.1"/>
<text x="240.7" y="175.6" font-size="11.8" text-anchor="start" textLength="15.6" lengthAdjust="spacingAndGlyphs">GT</text>
<text x="162.2" y="123.8" font-size="13.6" text-anchor="start" textLength="28.0" lengthAdjust="spacingAndGlyphs">Time</text>
<text x="194.90" y="123.8" font-size="13.6" text-anchor="start" >[</text>
<text x="197.70" y="123.8" font-size="13.6" text-anchor="start" >s</text>
<text x="201.80" y="123.8" font-size="13.6" text-anchor="start" >]</text>
<text x="508.0" y="123.8" font-size="13.6" text-anchor="start" textLength="28.0" lengthAdjust="spacingAndGlyphs">Time</text>
<text x="540.70" y="123.8" font-size="13.6" text-anchor="start" >[</text>
<text x="543.50" y="123.8" font-size="13.6" text-anchor="start" >s</text>
<text x="547.60" y="123.8" font-size="13.6" text-anchor="start" >]</text>
<text x="162.6" y="282.0" font-size="13.6" text-anchor="start" textLength="28.0" lengthAdjust="spacingAndGlyphs">Time</text>
<text x="195.30" y="282.0" font-size="13.6" text-anchor="start" >[</text>
<text x="198.10" y="282.0" font-size="13.6" text-anchor="start" >s</text>
<text x="202.20" y="282.0" font-size="13.6" text-anchor="start" >]</text>
<text x="507.8" y="282.0" font-size="13.6" text-anchor="start" textLength="28.0" lengthAdjust="spacingAndGlyphs">Time</text>
<text x="540.50" y="282.0" font-size="13.6" text-anchor="start" >[</text>
<text x="543.30" y="282.0" font-size="13.6" text-anchor="start" >s</text>
<text x="547.40" y="282.0" font-size="13.6" text-anchor="start" >]</text>
<text x="183.8" y="145.2" font-size="13.0" text-anchor="middle" font-weight="bold" textLength="16.7" lengthAdjust="spacingAndGlyphs">(a)</text>
<text x="528.9" y="145.2" font-size="13.0" text-anchor="middle" font-weight="bold" textLength="16.7" lengthAdjust="spacingAndGlyphs">(b)</text>
<text x="184.0" y="304.6" font-size="13.0" text-anchor="middle" font-weight="bold" textLength="16.7" lengthAdjust="spacingAndGlyphs">(c)</text>
<text x="529.0" y="304.6" font-size="13.0" text-anchor="middle" font-weight="bold" textLength="16.7" lengthAdjust="spacingAndGlyphs">(d)</text>
<text transform="translate(10.9,66.6) rotate(-90)" font-size="13.4" textLength="14.0" lengthAdjust="spacingAndGlyphs"><tspan font-style="italic">x</tspan><tspan font-size="8.8" font-style="italic" dy="2.0">ji</tspan></text>
<text transform="translate(10.9,46.4) rotate(-90)" font-size="13.4" letter-spacing="-1.9">[m]</text>
<text transform="translate(354.5,65.8) rotate(-90)" font-size="13.4" textLength="13.6" lengthAdjust="spacingAndGlyphs"><tspan font-style="italic">y</tspan><tspan font-size="8.8" font-style="italic" dy="2.0">ji</tspan></text>
<text transform="translate(354.5,47.2) rotate(-90)" font-size="13.4" letter-spacing="-1.9">[m]</text>
<text transform="translate(9.8,226.0) rotate(-90)" font-size="13.4" textLength="15.6" lengthAdjust="spacingAndGlyphs"><tspan font-style="italic">ρ</tspan><tspan font-size="8.8" font-style="italic" dy="2.0">ji</tspan></text>
<text transform="translate(9.8,204.5) rotate(-90)" font-size="13.4" letter-spacing="-1.9">[m]</text>
<text transform="translate(356.8,246.9) rotate(-90)" font-size="13.4" textLength="14.3" lengthAdjust="spacingAndGlyphs"><tspan font-style="italic">β</tspan><tspan font-size="8.8" font-style="italic" dy="2.0">ji</tspan></text>
<text transform="translate(356.8,229.0) rotate(-90)" font-size="13.4" textLength="27.0" lengthAdjust="spacingAndGlyphs">error</text>
<text transform="translate(356.8,197.7) rotate(-90)" font-size="13.4" letter-spacing="-1.2">[rad]</text>
</svg></body></html>
